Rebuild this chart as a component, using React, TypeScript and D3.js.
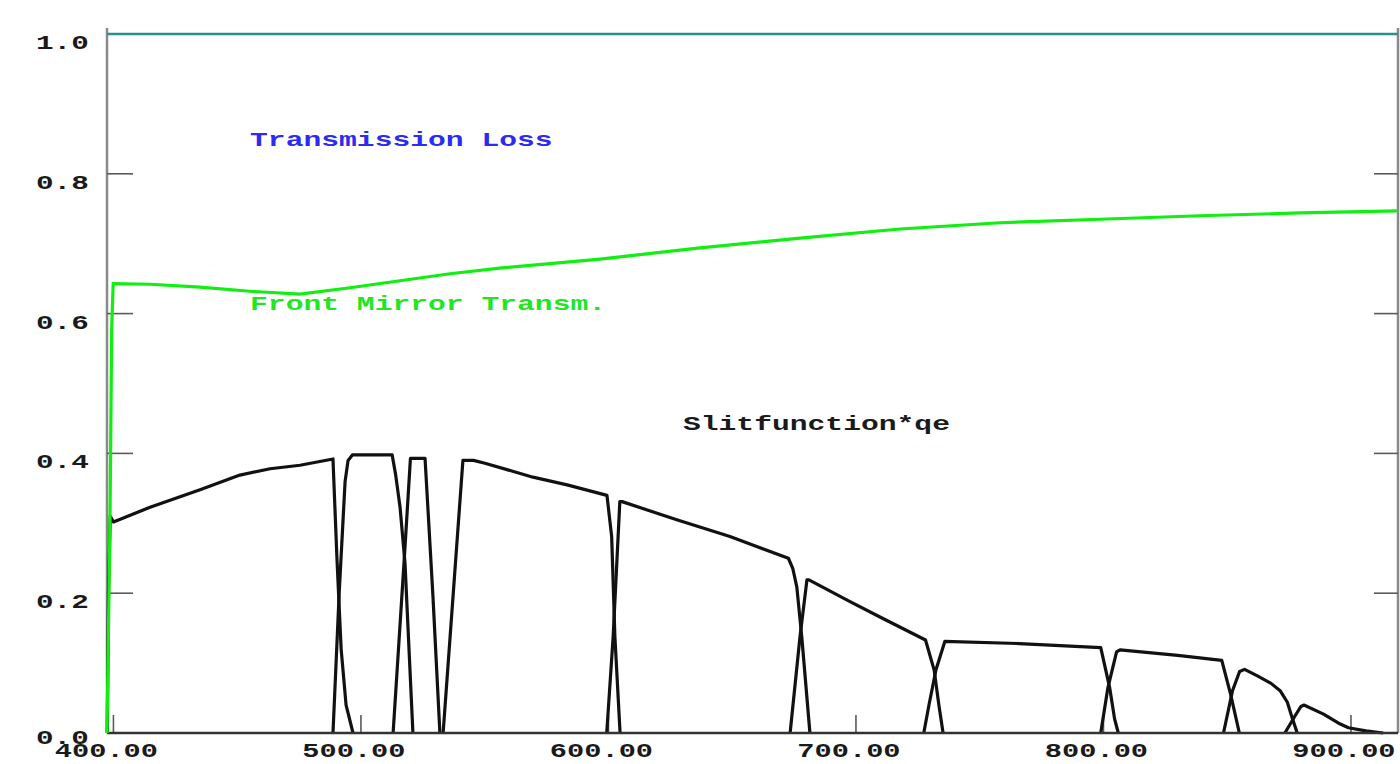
import React, { useRef, useEffect } from 'react';
import * as d3 from 'd3';

// wavelength domain (nm) and value domain
const xDomain = [397.4, 919];
const yDomain = [0, 1];
const xTicks = [400, 500, 600, 700, 800, 900];
const yTicks = [0, 0.2, 0.4, 0.6, 0.8, 1.0];

// transmission loss (flat at 1.0)
const transmissionLoss = [[397.4, 1.0], [919, 1.0]];

// front mirror transmission
const frontMirror = [
  [397.4, 0.0], [398.6, 0.3], [399.3, 0.58], [399.9, 0.643], [414.8, 0.642],
  [435, 0.638], [455, 0.632], [475.4, 0.628], [495.6, 0.637], [515.8, 0.647],
  [536, 0.657], [556, 0.665], [596.6, 0.678], [637, 0.694], [677.4, 0.708],
  [717.8, 0.721], [758.2, 0.73], [798.6, 0.735], [839, 0.74], [879.4, 0.744],
  [919, 0.747],
];

// slit function * qe, one band per channel
const band1 = [
  [397.5, 0], [398.0, 0.2], [398.7, 0.31], [400, 0.302], [414.8, 0.323], [435, 0.348],
  [451.1, 0.369], [463.3, 0.378], [475.4, 0.383], [488.7, 0.392], [490.3, 0.25],
  [492.0, 0.12], [494.0, 0.04], [496.8, 0],
];
const band2 = [
  [488.7, 0], [491.2, 0.2], [493.6, 0.36], [494.8, 0.39], [496.6, 0.398],
  [512.6, 0.398], [514.0, 0.37], [515.8, 0.323], [517.8, 0.243], [521.0, 0],
];
const band3 = [
  [513.0, 0], [517.8, 0.266], [520.0, 0.393], [525.9, 0.393], [529.1, 0.195], [531.9, 0],
];
const band4 = [
  [533.2, 0], [537.2, 0.195], [541.2, 0.39], [545.5, 0.39], [550.1, 0.386],
  [569.5, 0.366], [583.3, 0.355], [599.4, 0.34], [601.3, 0.281], [602.6, 0.138], [604.7, 0],
];
const band5 = [
  [599.3, 0], [601.9, 0.138], [604.6, 0.331], [605.5, 0.331], [627.6, 0.305],
  [649.1, 0.281], [672.7, 0.25], [674.5, 0.235], [676.1, 0.209], [678.1, 0.138], [681.4, 0],
];
const band6 = [
  [673.4, 0], [677.4, 0.138], [680.2, 0.219], [681.0, 0.219], [697.6, 0.188],
  [709.7, 0.166], [728.1, 0.133], [731.6, 0.09], [733.5, 0.04], [735.2, 0],
];
const band7 = [
  [727.4, 0], [729.5, 0.04], [732.3, 0.09], [735.9, 0.131], [766, 0.128],
  [798.9, 0.122], [802.5, 0.065], [804.5, 0.02], [806.0, 0],
];
const band8 = [
  [798.9, 0], [801.8, 0.065], [805.3, 0.116], [806.7, 0.119], [830, 0.111],
  [847.8, 0.104], [851.4, 0.055], [854.9, 0],
];
const band9 = [
  [848.5, 0], [852.1, 0.06], [855.0, 0.088], [857.0, 0.091], [862.0, 0.082],
  [867.7, 0.071], [871.5, 0.06], [874.3, 0.044], [876.2, 0.022], [878.3, 0],
];
const band10 = [
  [873.3, 0], [877.5, 0.025], [879.8, 0.038], [881.0, 0.04], [888.9, 0.027],
  [895.0, 0.014], [899.0, 0.0075], [906, 0.003], [913.0, 0],
];
const slitBands = [band1, band2, band3, band4, band5, band6, band7, band8, band9, band10];

// curve labels
const annotations = [
  { text: 'Transmission Loss', nm: 455.2, v: 0.84, color: '#2b2bf2' },
  { text: 'Front Mirror Transm.', nm: 455.2, v: 0.605, color: '#22e622' },
  { text: 'Slitfunction*qe', nm: 630.1, v: 0.433, color: '#1a1a1a' },
];

const PITCH = 17.6;

const App = () => {
  const svgRef = useRef(null);

  useEffect(() => {
    const svg = d3.select(svgRef.current);
    svg.selectAll('*').remove();

    const x = d3.scaleLinear().domain(xDomain).range([107, 1398]);
    const y = d3.scaleLinear().domain(yDomain).range([733, 34]);
    const font = "'Liberation Mono', 'Courier New', monospace";

    const line = d3.line()
      .x((d) => x(d[0]))
      .y((d) => y(d[1]));

    // axes frame
    svg.append('line')
      .attr('x1', x.range()[0]).attr('x2', x.range()[0])
      .attr('y1', 28).attr('y2', y(0))
      .attr('stroke', '#8a8a8a').attr('stroke-width', 2.5);
    svg.append('line')
      .attr('x1', x.range()[1]).attr('x2', x.range()[1])
      .attr('y1', 28).attr('y2', y(0))
      .attr('stroke', '#8a8a8a').attr('stroke-width', 2.5);

    // y ticks, both sides pointing inward
    yTicks.filter((t) => t > 0 && t < 1).forEach((t) => {
      svg.append('line')
        .attr('x1', x.range()[0]).attr('x2', x.range()[0] + 26)
        .attr('y1', y(t)).attr('y2', y(t))
        .attr('stroke', '#5a5a5a').attr('stroke-width', 1.6);
      svg.append('line')
        .attr('x1', x.range()[1] - 24).attr('x2', x.range()[1])
        .attr('y1', y(t)).attr('y2', y(t))
        .attr('stroke', '#5a5a5a').attr('stroke-width', 1.6);
    });

    // x ticks
    xTicks.forEach((t) => {
      svg.append('line')
        .attr('x1', x(t)).attr('x2', x(t))
        .attr('y1', y(0) - 18).attr('y2', y(0))
        .attr('stroke', '#5a5a5a').attr('stroke-width', 1.6);
    });

    // y tick labels (0.0 sits a little higher, as in the original plot)
    yTicks.forEach((t) => {
      svg.append('text')
        .attr('x', 36)
        .attr('y', t === 0 ? y(t) + 11 : y(t) + 15)
        .attr('font-family', font)
        .attr('font-weight', 'bold')
        .attr('font-size', 21)
        .attr('fill', '#1a1a1a')
        .attr('textLength', 3 * PITCH)
        .attr('lengthAdjust', 'spacingAndGlyphs')
        .text(t.toFixed(1));
    });

    // x tick labels
    xTicks.forEach((t) => {
      svg.append('text')
        .attr('x', x(t) - 7)
        .attr('y', 757)
        .attr('text-anchor', 'middle')
        .attr('font-family', font)
        .attr('font-weight', 'bold')
        .attr('font-size', 21)
        .attr('fill', '#1a1a1a')
        .attr('textLength', 6 * 17.2)
        .attr('lengthAdjust', 'spacingAndGlyphs')
        .text(t.toFixed(2));
    });

    // slit function bands
    svg.append('g')
      .selectAll('path')
      .data(slitBands)
      .enter()
      .append('path')
      .attr('d', line)
      .attr('fill', 'none')
      .attr('stroke', '#111')
      .attr('stroke-width', 3.2)
      .attr('stroke-linejoin', 'round');

    // bottom axis line
    svg.append('line')
      .attr('x1', x.range()[0]).attr('x2', x.range()[1])
      .attr('y1', y(0)).attr('y2', y(0))
      .attr('stroke', '#333').attr('stroke-width', 2.5);

    // front mirror transmission
    svg.append('path')
      .attr('d', line(frontMirror))
      .attr('fill', 'none')
      .attr('stroke', '#11ee11')
      .attr('stroke-width', 3.2);

    // transmission loss
    svg.append('path')
      .attr('d', line(transmissionLoss))
      .attr('fill', 'none')
      .attr('stroke', '#2a8f8f')
      .attr('stroke-width', 2.5);

    // curve labels
    annotations.forEach((a) => {
      svg.append('text')
        .attr('x', x(a.nm))
        .attr('y', y(a.v))
        .attr('font-family', font)
        .attr('font-weight', 'bold')
        .attr('font-size', 21)
        .attr('fill', a.color)
        .attr('textLength', a.text.length * 17.8)
        .attr('lengthAdjust', 'spacingAndGlyphs')
        .text(a.text);
    });
  }, []);

  return (
    <svg
      ref={svgRef}
      width={1400}
      height={764}
      style={{ position: 'absolute', left: 0, top: 0, background: '#fff' }}
    />
  );
};

export default App;
